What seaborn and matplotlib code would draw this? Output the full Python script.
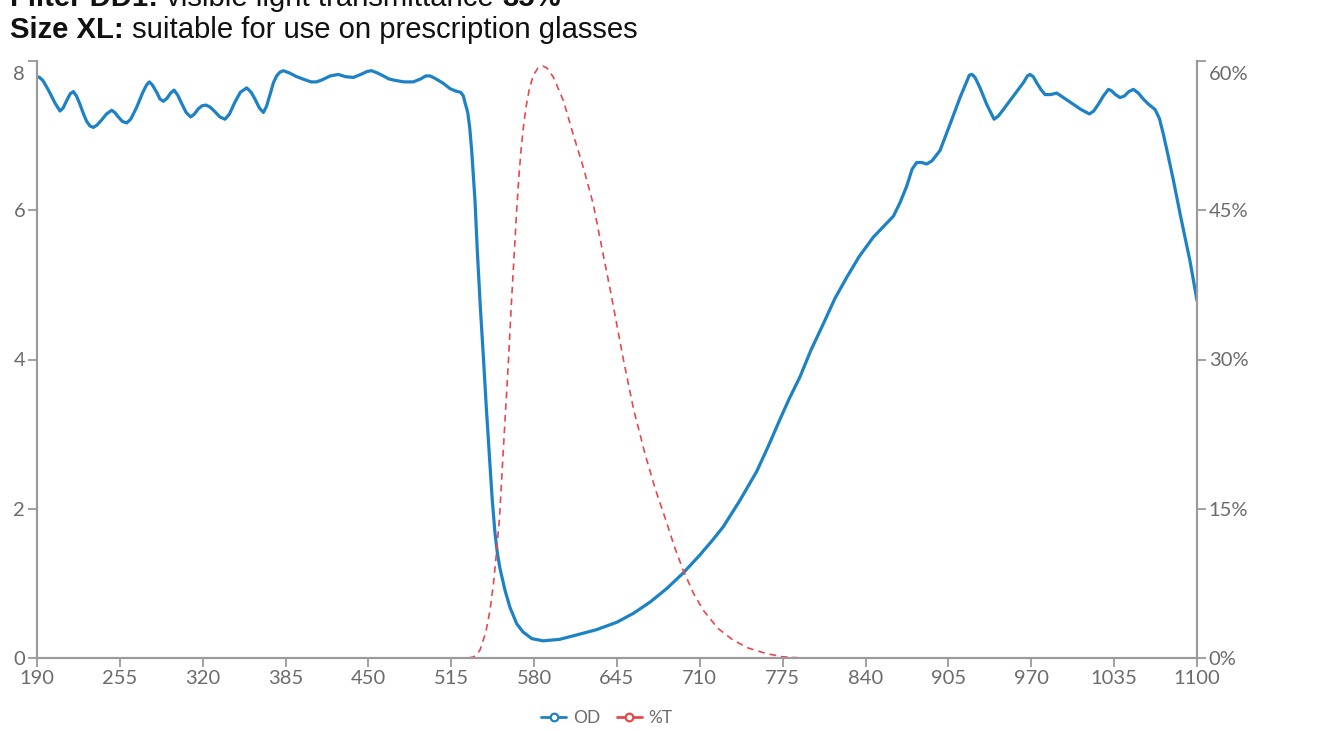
import matplotlib
matplotlib.use("Agg")
import matplotlib.pyplot as plt
import seaborn as sns
import pandas as pd
from matplotlib.lines import Line2D
from matplotlib.transforms import ScaledTranslation

# ---------------- data ----------------
od_nm = [190, 192, 194.5, 197, 200.2, 204, 208, 210.5, 213.3, 216,
         218.5, 221, 223.7, 226.5, 229, 231.5, 234.2, 237, 240.7, 244.5,
         248.6, 251, 253.8, 257, 260.3, 263.5, 268.2, 273, 276, 278.1,
         280.5, 283.9, 286.5, 289.1, 292, 294.8, 297.5, 300.5, 303.5, 307,
         310.6, 313.5, 316.6, 319.5, 322.6, 326, 329.6, 333.5, 337.5, 341,
         345.3, 349.5, 354.5, 358, 361, 364.5, 367.6, 370, 372.8, 375.5,
         378, 380.5, 383.3, 388, 393.7, 400, 405, 409.4, 414, 420,
         426.4, 432, 438.2, 444, 449, 452.5, 457, 461.7, 466, 470.9,
         478, 485.2, 491, 495, 498.3, 502, 508.8, 514, 518, 522.4,
         524.5, 525.8, 527, 528, 529.5, 531, 533.6, 535.4, 537.8, 540.3,
         542.5, 544.6, 547, 549.3, 551.2, 553.2, 557.1, 561, 566.3, 571.2,
         578.1, 587, 600, 613.6, 629, 645, 658, 671, 684, 697,
         710, 720, 728.4, 741, 754.6, 764, 772.9, 780, 788.6, 797,
         806.9, 816, 825.2, 835, 846.1, 854, 861.8, 867, 872.2, 876.5,
         880.1, 884, 887.9, 892, 898.4, 906.2, 914.1, 921.4, 923.5, 925.9,
         929.8, 935, 940.8, 944, 948.1, 956, 963.8, 967, 969, 971.5,
         974.2, 977.5, 980.8, 985, 990, 996, 1003, 1009, 1015.6, 1019,
         1022.6, 1026.5, 1030.5, 1033, 1036, 1039.6, 1043, 1046.5, 1050.1, 1054,
         1057.9, 1062, 1067.1, 1070.5, 1073.6, 1077.5, 1081.5, 1087, 1094.5, 1100]
od_val = [7.79, 7.78, 7.74, 7.67, 7.57, 7.44, 7.33, 7.37, 7.47, 7.56,
          7.59, 7.53, 7.42, 7.29, 7.19, 7.13, 7.11, 7.14, 7.21, 7.29,
          7.34, 7.31, 7.25, 7.19, 7.17, 7.22, 7.38, 7.58, 7.68, 7.72,
          7.68, 7.58, 7.49, 7.46, 7.50, 7.57, 7.61, 7.54, 7.43, 7.31,
          7.25, 7.29, 7.36, 7.40, 7.41, 7.38, 7.32, 7.25, 7.22, 7.29,
          7.45, 7.58, 7.64, 7.58, 7.49, 7.37, 7.31, 7.39, 7.55, 7.71,
          7.80, 7.85, 7.87, 7.84, 7.79, 7.75, 7.72, 7.72, 7.75, 7.80,
          7.82, 7.79, 7.78, 7.82, 7.86, 7.87, 7.84, 7.80, 7.76, 7.74,
          7.72, 7.72, 7.76, 7.80, 7.80, 7.77, 7.70, 7.63, 7.60, 7.58,
          7.53, 7.44, 7.37, 7.30, 7.10, 6.80, 6.13, 5.46, 4.70, 4.00,
          3.35, 2.78, 2.15, 1.67, 1.40, 1.20, 0.91, 0.68, 0.46, 0.35,
          0.26, 0.23, 0.25, 0.31, 0.38, 0.48, 0.60, 0.75, 0.93, 1.14,
          1.38, 1.58, 1.76, 2.10, 2.50, 2.85, 3.20, 3.47, 3.77, 4.12,
          4.48, 4.82, 5.10, 5.38, 5.64, 5.78, 5.92, 6.10, 6.32, 6.55,
          6.64, 6.64, 6.62, 6.66, 6.80, 7.15, 7.51, 7.81, 7.82, 7.78,
          7.64, 7.42, 7.22, 7.26, 7.35, 7.53, 7.71, 7.80, 7.82, 7.79,
          7.71, 7.62, 7.55, 7.55, 7.57, 7.50, 7.42, 7.35, 7.29, 7.33,
          7.42, 7.53, 7.62, 7.60, 7.55, 7.51, 7.53, 7.59, 7.62, 7.57,
          7.49, 7.42, 7.35, 7.23, 7.02, 6.72, 6.40, 5.93, 5.32, 4.79]

t_nm = [190, 528.0, 532.3, 535.0, 537.5, 541.9, 545.4, 548.1, 550.6, 552.9,
        555.8, 559.9, 562.3, 564.8, 566.3, 568.1, 569.7, 571.7, 573.8, 576.4,
        579.5, 583.0, 586.7, 590.0, 595.0, 603.0, 610.7, 618.6, 626.4, 633.0,
        640.0, 650.0, 658.0, 667.0, 675.0, 684.0, 690.0, 697.0, 705.0, 712.7,
        724.0, 736.0, 748.0, 762.0, 775.0, 790.0, 1100]
t_val = [0, 0, 0.1, 0.35, 0.8, 2.5, 4.8, 7.5, 10.8, 14.2,
         20.9, 30.0, 36.0, 41.6, 45.0, 48.5, 51.0, 53.5, 55.5, 57.3,
         58.6, 59.3, 59.5, 59.3, 58.4, 56.0, 52.6, 49.3, 45.6, 41.3,
         36.8, 30.0, 25.0, 20.5, 17.0, 13.6, 11.2, 8.8, 6.5, 4.8,
         3.0, 1.8, 1.0, 0.45, 0.12, 0, 0]

x_ticks = [190, 255, 320, 385, 450, 515, 580, 645, 710, 775, 840, 905, 970, 1035, 1100]
od_ticks = [0, 2, 4, 6, 8]
t_ticks = [0, 15, 30, 45, 60]
t_tick_labels = ["0%", "15%", "30%", "45%", "60%"]

series_names = ["OD", "%T"]
title_line1 = [("Filter DD1:", True), (" visible light transmittance ", False), ("35%", True)]
title_line2 = [("Size XL:", True), (" suitable for use on prescription glasses", False)]

# ---------------- style ----------------
BLUE = "#1d82c5"
RED = "#e8474c"
AXC = "#9a9a9a"
LABC = "#6b6b6b"
W, H = 1321, 731

sns.set_theme(style="white")
plt.rcParams['font.family'] = ['Lato', 'DejaVu Sans']

fig = plt.figure(figsize=(W / 100, H / 100), dpi=100)
ax = fig.add_axes([37 / W, 1 - 658 / H, (1197 - 37) / W, (658 - 61) / H])
ax2 = ax.twinx()

od_df = pd.DataFrame({"nm": od_nm, "v": od_val})
t_df = pd.DataFrame({"nm": t_nm, "v": t_val})

sns.lineplot(data=od_df, x="nm", y="v", ax=ax, color=BLUE, linewidth=2.3,
             estimator=None, solid_joinstyle="round", solid_capstyle="round")
sns.lineplot(data=t_df, x="nm", y="v", ax=ax2, color=RED, linewidth=1.2,
             estimator=None, linestyle=(0, (4, 3)))

ax.set_xlim(190, 1100)
ax.set_ylim(0, 8)
ax2.set_ylim(0, 60)
ax.set_xticks(x_ticks)
ax.set_xticklabels([str(v) for v in x_ticks])
ax.set_yticks(od_ticks)
ax.set_yticklabels([str(v) for v in od_ticks])
ax2.set_yticks(t_ticks)
ax2.set_yticklabels(t_tick_labels)

for a in (ax, ax2):
    a.set_xlabel("")
    a.set_ylabel("")
    a.spines["top"].set_visible(False)
    for s in ("left", "right", "bottom"):
        a.spines[s].set_color(AXC)
        a.spines[s].set_linewidth(1.5)
    a.grid(False)

ax.tick_params(axis="x", bottom=True, direction="out", length=6.5, width=1.3,
               color=AXC, labelcolor=LABC, labelsize=14.5, pad=2.5)
ax.tick_params(axis="y", left=True, direction="out", length=6.5, width=1.3,
               color=AXC, labelcolor=LABC, labelsize=14.5, pad=2)
ax2.tick_params(axis="y", right=True, direction="out", length=6.5, width=1.3,
                color=AXC, labelcolor=LABC, labelsize=14.5, pad=2)

# top tick labels sit just below the axis end, as in the reference
shift = ScaledTranslation(0, -5 / 100, fig.dpi_scale_trans)
lab_l = ax.yaxis.get_major_ticks()[-1].label1
lab_l.set_verticalalignment("top")
lab_l.set_transform(lab_l.get_transform() + shift)
lab_r = ax2.yaxis.get_major_ticks()[-1].label2
lab_r.set_verticalalignment("top")
lab_r.set_transform(lab_r.get_transform() + shift)

# legend
handles = [
    Line2D([0], [0], color=BLUE, lw=2, marker="o", markersize=5.5,
           markerfacecolor="white", markeredgewidth=1.6),
    Line2D([0], [0], color=RED, lw=2, marker="o", markersize=5.5,
           markerfacecolor="white", markeredgewidth=1.6),
]
fig.legend(handles, series_names, loc="center", bbox_to_anchor=(607 / W, 1 - 718 / H),
           ncol=2, frameon=False, fontsize=12.5, labelcolor=LABC,
           handlelength=1.4, handletextpad=0.4, columnspacing=1.0)

# title text (mixed bold / regular)
renderer = fig.canvas.get_renderer()


def rich_line(x_px, base_px, parts, size):
    x = x_px
    for txt, bold in parts:
        t = fig.text(x / W, 1 - base_px / H, txt, fontsize=size,
                     fontweight="bold" if bold else "normal",
                     family=["Liberation Sans", "DejaVu Sans"],
                     va="baseline", ha="left", color="#111111")
        bb = t.get_window_extent(renderer)
        x += bb.width


rich_line(10, 6, title_line1, 21.1)
rich_line(10, 38, title_line2, 21.1)

fig.savefig("out.png", dpi=100, facecolor="white")
